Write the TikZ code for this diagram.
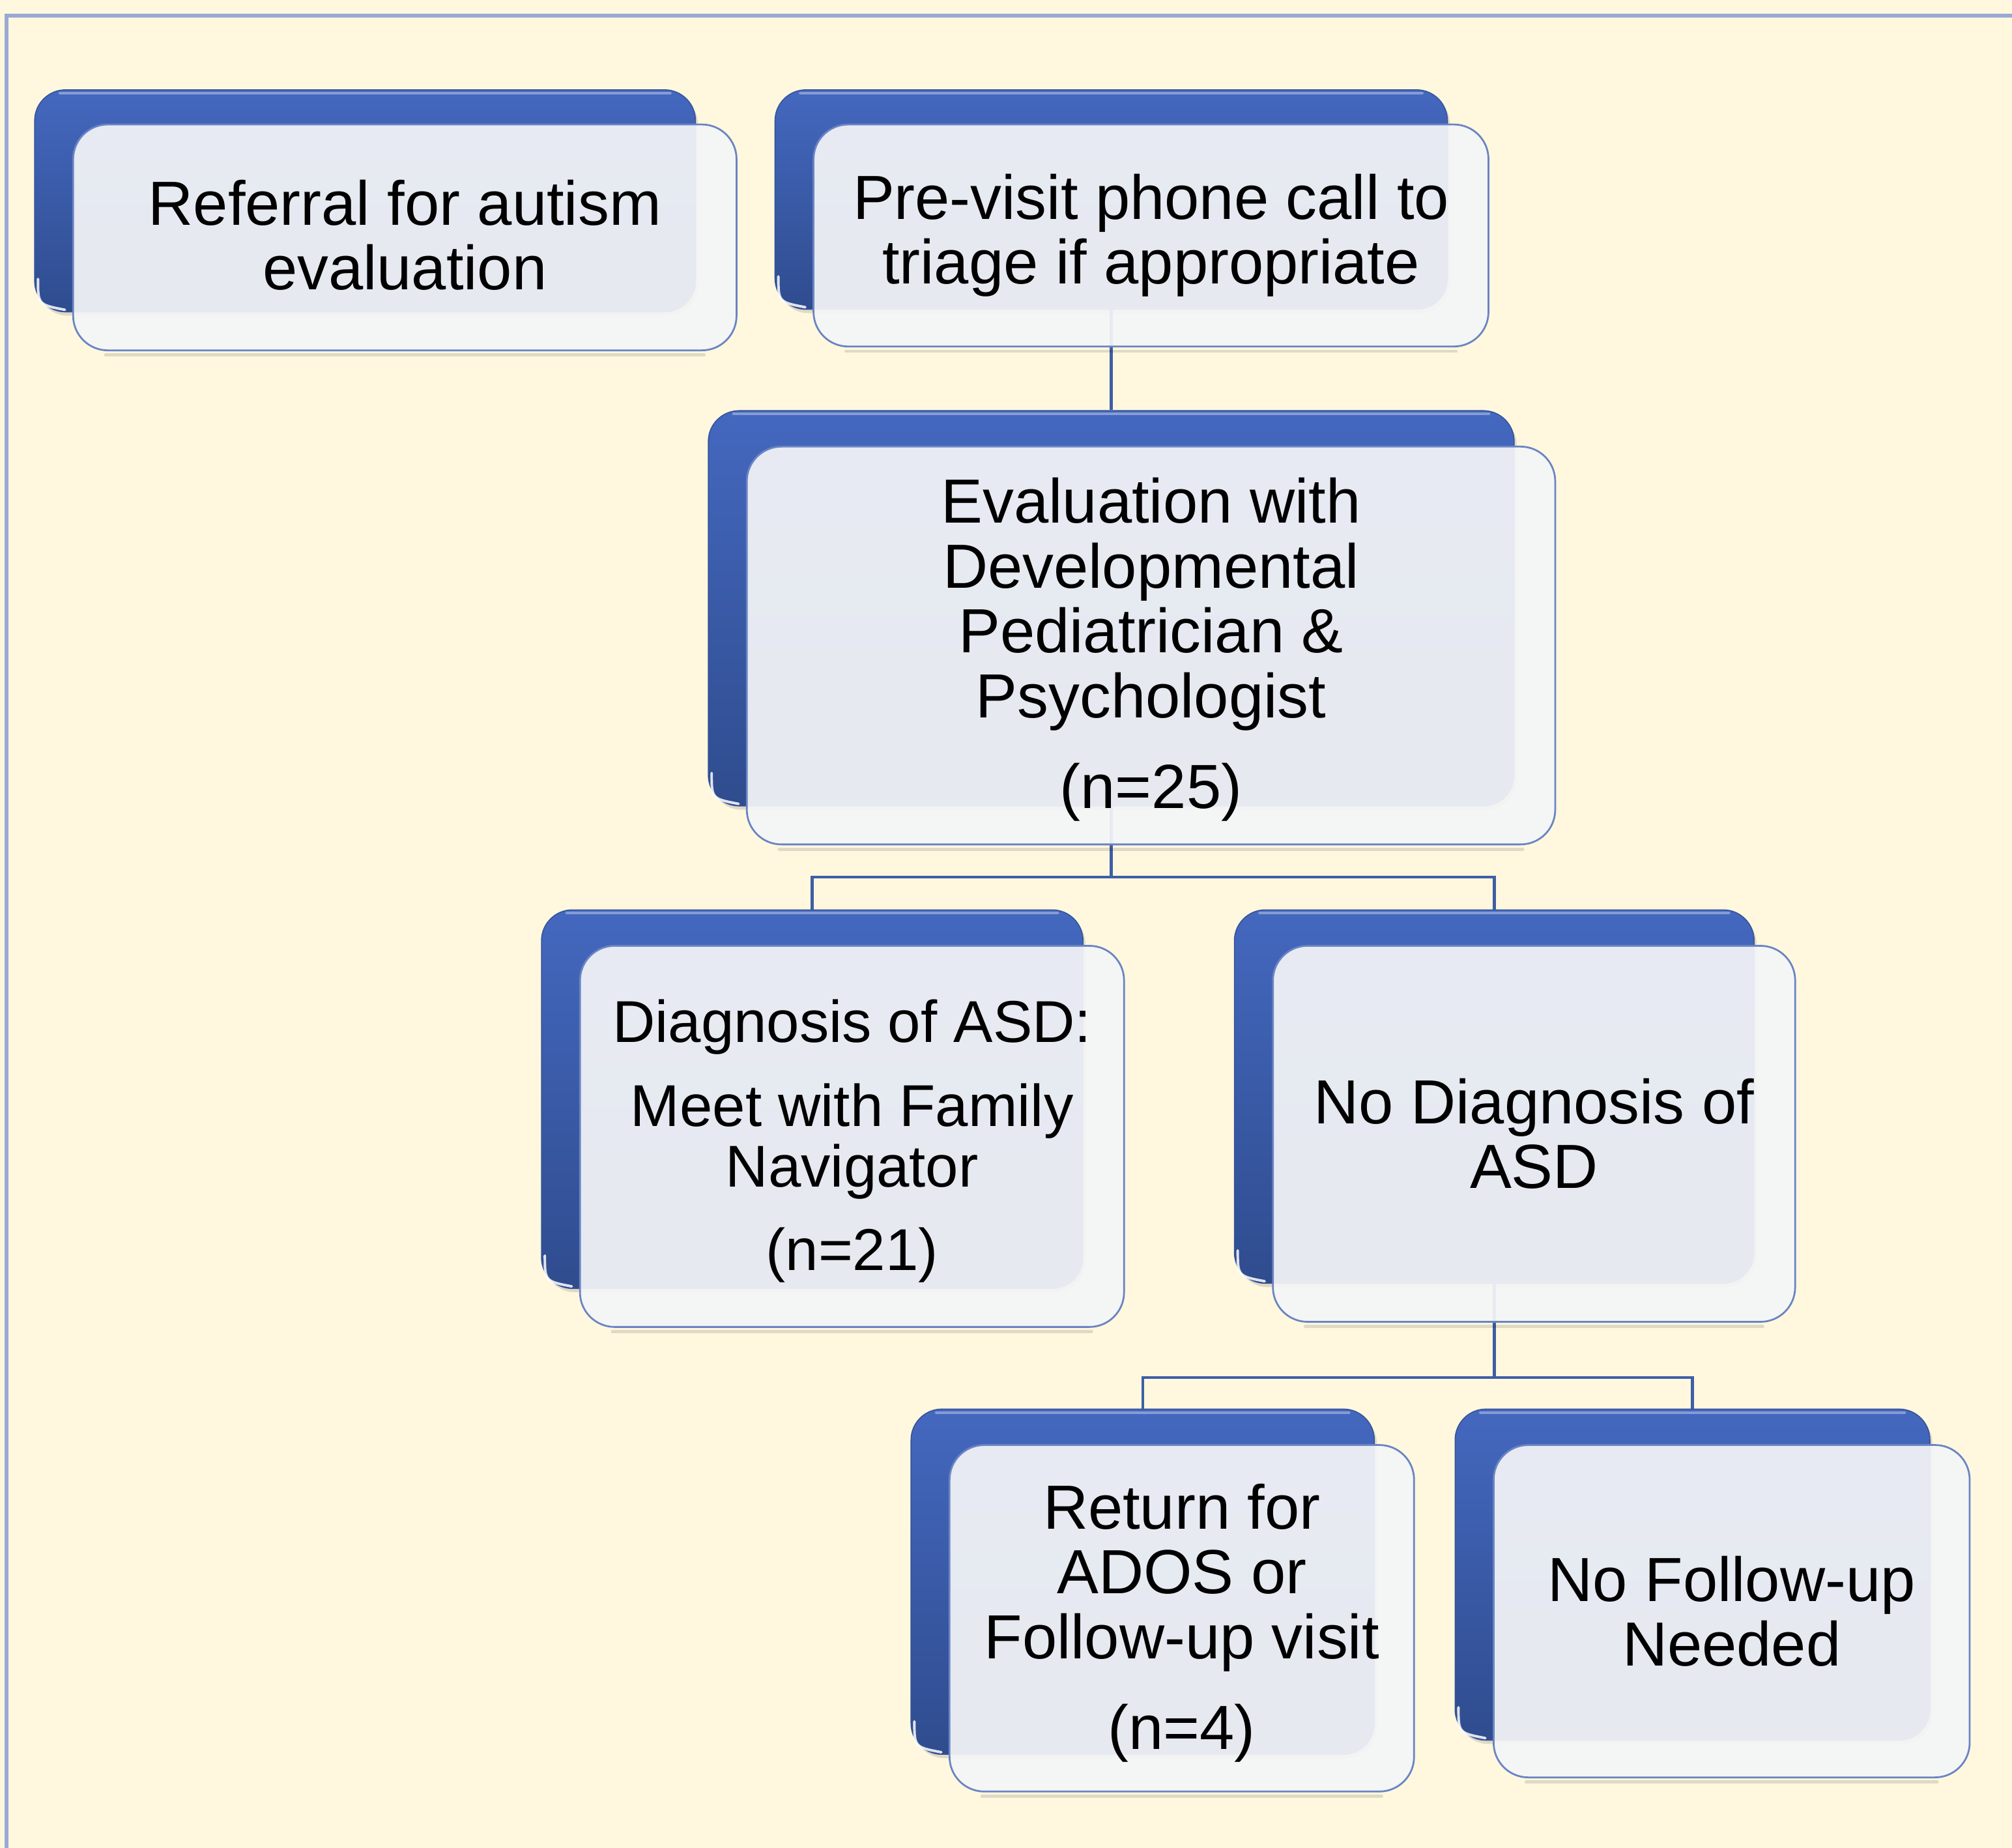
\documentclass[tikz,border=0pt]{standalone}
\usepackage{fontspec}
\setmainfont{Liberation Sans}
\usetikzlibrary{calc,shadows}
\definecolor{cream}{HTML}{FFF8DE}
\definecolor{frameblue}{HTML}{9AA9D4}
\definecolor{boxtop}{HTML}{4468BF}
\definecolor{boxbot}{HTML}{2F4C8E}
\definecolor{frontfill}{HTML}{F4F5F7}
\definecolor{frontline}{HTML}{6A84C4}
\definecolor{connblue}{HTML}{3F5EA6}
\tikzset{
  backbox/.style={rectangle, rounded corners=24pt, inner sep=0pt,
    top color=boxtop, bottom color=boxbot, draw=boxtop!80!black, line width=0.8pt,
    drop shadow={opacity=0.25, shadow xshift=2pt, shadow yshift=-3pt}},
  frontbox/.style={rectangle, rounded corners=27pt, inner sep=0pt,
    fill=frontfill, fill opacity=0.93, text opacity=1, draw=frontline, line width=1.4pt,
    align=center, font=\fontsize{48.6pt}{50.5pt}\selectfont},
  conn/.style={draw=connblue, line width=2.2pt},
  hilite/.style={draw=white, line width=2pt, opacity=0.35, line cap=round},
  glint/.style={draw=white, line width=2pt, opacity=0.85, line cap=round},
  shline/.style={draw=black, line width=2.5pt, opacity=0.12, line cap=round}
}
\begin{document}
\begin{tikzpicture}[x=1pt,y=-1pt]
\useasboundingbox (0,0) rectangle (1568,1440);
\fill[cream] (0,0) rectangle (1568,1440);
\draw[frameblue, line width=3pt] (5,1440) -- (5,12) -- (1568,12);

% back boxes
\node[backbox, minimum width=515pt, minimum height=173pt] (b1) at (284.5,156.5) {};
\node[backbox, minimum width=524pt, minimum height=171pt] (b2) at (866,155.5) {};
\node[backbox, minimum width=628pt, minimum height=308pt] (b3) at (866,474) {};
\node[backbox, minimum width=422pt, minimum height=295pt] (b4) at (633,856.5) {};
\node[backbox, minimum width=405pt, minimum height=291pt] (b5) at (1164.5,854.5) {};
\node[backbox, minimum width=361pt, minimum height=269pt] (b6) at (890.5,1232.5) {};
\node[backbox, minimum width=370pt, minimum height=258pt] (b7) at (1319,1227) {};

\foreach \b in {b1,b2,b3,b4,b5,b6,b7}{
  \draw[hilite] ($(\b.north west)+(20,3)$) -- ($(\b.north east)+(-20,3)$);
  \draw[glint] ($(\b.south west)+(3,-26)$) .. controls ($(\b.south west)+(3,-6)$) .. ($(\b.south west)+(24,-2)$);
}

% connectors
\coordinate (j1) at ($(b3.south)+(0,55)$);
\coordinate (j2) at ($(b5.south)+(0,73)$);
\draw[conn] (b2.south) -- (b3.north);
\draw[conn] (b3.south) -- (j1);
\draw[conn] (b4.north) |- (j1) -| (b5.north);
\draw[conn] (b5.south) -- (j2);
\draw[conn] (b6.north) |- (j2) -| (b7.north);

% front boxes
\node[frontbox, minimum width=517pt, minimum height=176pt] (f1) at (315.5,185)
  {Referral for autism\\evaluation\rule[-4pt]{0pt}{0pt}};
\node[frontbox, minimum width=526pt, minimum height=173pt] (f2) at (897,183.5)
  {Pre-visit phone call to\\triage if appropriate};
\node[frontbox, minimum width=630pt, minimum height=310pt] (f3) at (897,503)
  {\rule{0pt}{41.4pt}Evaluation with\\Developmental\\Pediatrician \&\\Psychologist\\[20pt](n=25)};
\node[frontbox, minimum width=424pt, minimum height=297pt, font=\fontsize{46pt}{47.5pt}\selectfont] (f4) at (664,885.5)
  {\rule{0pt}{40.5pt}Diagnosis of ASD:\\[18pt]Meet with Family\\Navigator\\[17.5pt](n=21)};
\node[frontbox, minimum width=407pt, minimum height=293pt] (f5) at (1195.5,883.5)
  {No Diagnosis of\\ASD};
\node[frontbox, minimum width=362pt, minimum height=270pt] (f6) at (921,1261)
  {\rule{0pt}{42.4pt}Return for\\ADOS or\\Follow-up visit\\[20pt](n=4)};
\node[frontbox, minimum width=371pt, minimum height=259pt] (f7) at (1349.5,1255.5)
  {No Follow-up\\Needed};

\foreach \f in {f1,f2,f3,f4,f5,f6,f7}{
  \draw[shline] ($(\f.south west)+(26,3)$) -- ($(\f.south east)+(-26,3)$);
}
\end{tikzpicture}
\end{document}
